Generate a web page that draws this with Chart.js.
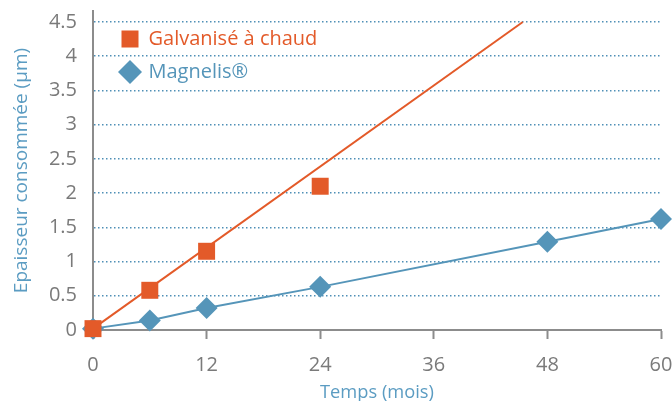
<!DOCTYPE html>
<html>
<head>
<meta charset="utf-8">
<script src="https://cdn.jsdelivr.net/npm/chart.js@4.4.1/dist/chart.umd.min.js"></script>
<style>
  html, body { margin: 0; padding: 0; background: #ffffff; }
  canvas { display: block; }
</style>
</head>
<body>
<canvas id="c" width="672" height="401"></canvas>
<script>
// ---- Data ----
const galvaMonths = [0, 6, 12, 24];
const galvaValues = [0.02, 0.58, 1.15, 2.1];

const magnelisMonths = [0, 6, 12, 24, 48, 60];
const magnelisValues = [0.02, 0.14, 0.32, 0.63, 1.29, 1.62];

const galvaTrendMonths = [0, 45.4];
const galvaTrendValues = [0.02, 4.5];

const xTicks = [0, 12, 24, 36, 48, 60];
const yTicks = [0, 0.5, 1, 1.5, 2, 2.5, 3, 3.5, 4, 4.5];

const seriesNames = ['Galvanisé à chaud', 'Magnelis®'];
const xTitle = 'Temps (mois)';
const yTitle = 'Epaisseur consommée (µm)';

// ---- Styles ----
const ORANGE = '#E35A29';
const BLUE = '#5595B9';
const GRID_BLUE = '#4F8FB6';
const AXIS_GREY = '#8C8C8C';
const TICK_GREY = '#7A7A7A';
const TITLE_BLUE = '#5B9CC2';

const toPoints = (xs, ys) => xs.map((x, i) => ({ x: x, y: ys[i] }));

Chart.defaults.font.family = "'Open Sans', sans-serif";

const legendOffset = {
  id: 'legendOffset',
  afterLayout(chart) {
    const lg = chart.legend;
    if (!lg) return;
    lg.left = chart.chartArea.left + 15.5;
    lg.top = chart.chartArea.top + 5;
    lg.right = chart.chartArea.right;
    lg.bottom = chart.chartArea.bottom;
  }
};

new Chart(document.getElementById('c'), {
  type: 'scatter',
  data: {
    datasets: [
      {
        label: seriesNames[0],
        data: toPoints(galvaMonths, galvaValues),
        showLine: false,
        pointStyle: 'rect',
        pointRadius: 12,
        pointBackgroundColor: ORANGE,
        backgroundColor: ORANGE,
        pointBorderWidth: 0,
        borderColor: ORANGE,
        clip: false
      },
      {
        label: seriesNames[1],
        data: toPoints(magnelisMonths, magnelisValues),
        showLine: true,
        borderColor: BLUE,
        borderWidth: 2,
        pointStyle: 'rectRot',
        pointRadius: 11,
        pointBackgroundColor: BLUE,
        backgroundColor: BLUE,
        pointBorderWidth: 0,
        clip: false
      },
      {
        label: 'trend',
        data: toPoints(galvaTrendMonths, galvaTrendValues),
        showLine: true,
        borderColor: ORANGE,
        borderWidth: 2,
        pointRadius: 0,
        clip: false
      }
    ]
  },
  options: {
    responsive: false,
    animation: false,
    events: [],
    layout: { autoPadding: false, padding: { left: 0, top: 11, right: 11, bottom: 0 } },
    plugins: {
      tooltip: { enabled: false },
      legend: {
        position: 'chartArea',
        fullSize: false,
        align: 'start',
        labels: {
          usePointStyle: true,
          boxWidth: 17,
          boxHeight: 17,
          padding: 13,
          font: { size: 20 },
          filter: (item) => item.datasetIndex < 2,
          generateLabels: (chart) => {
            const items = Chart.defaults.plugins.legend.labels.generateLabels(chart);
            return items.map(it => {
              const c = it.datasetIndex === 0 ? ORANGE : BLUE;
              it.fontColor = c;
              it.fillStyle = c;
              it.strokeStyle = c;
              it.lineWidth = 0;
              return it;
            });
          }
        }
      }
    },
    scales: {
      x: {
        type: 'linear',
        min: 0,
        max: 60,
        afterBuildTicks: (axis) => { axis.ticks = xTicks.map(v => ({ value: v })); },
        afterFit: (s) => { s.height = 71; s.paddingLeft = 0; s.paddingRight = 0; },
        grid: {
          drawOnChartArea: false,
          drawTicks: true,
          tickLength: 9,
          tickColor: AXIS_GREY,
          tickWidth: 2,
          color: AXIS_GREY
        },
        border: { display: true, color: AXIS_GREY, width: 2 },
        ticks: {
          color: TICK_GREY,
          font: { size: 20 },
          padding: 14,
          maxRotation: 0,
          callback: (v) => String(v)
        },
        title: {
          display: true,
          text: xTitle,
          color: TITLE_BLUE,
          font: { size: 18.3, lineHeight: 0.9 },
          padding: { top: 2, bottom: 0 }
        }
      },
      y: {
        type: 'linear',
        min: 0,
        max: 4.66,
        afterBuildTicks: (axis) => { axis.ticks = yTicks.map(v => ({ value: v })); },
        afterFit: (s) => { s.width = 93; s.paddingTop = 0; s.paddingBottom = 0; },
        grid: {
          drawTicks: false,
          lineWidth: 1.5,
          color: (ctx) => (ctx.tick && ctx.tick.value === 0) ? 'rgba(0,0,0,0)' : GRID_BLUE
        },
        border: { display: true, color: AXIS_GREY, width: 2, dash: [1.5, 2.5] },
        ticks: {
          color: TICK_GREY,
          font: { size: 20 },
          padding: 16,
          callback: (v) => String(v)
        },
        title: {
          display: true,
          text: yTitle,
          color: TITLE_BLUE,
          font: { size: 19 },
          padding: { top: 10, bottom: 0 }
        }
      }
    }
  },
  plugins: [legendOffset]
});
</script>
</body>
</html>
